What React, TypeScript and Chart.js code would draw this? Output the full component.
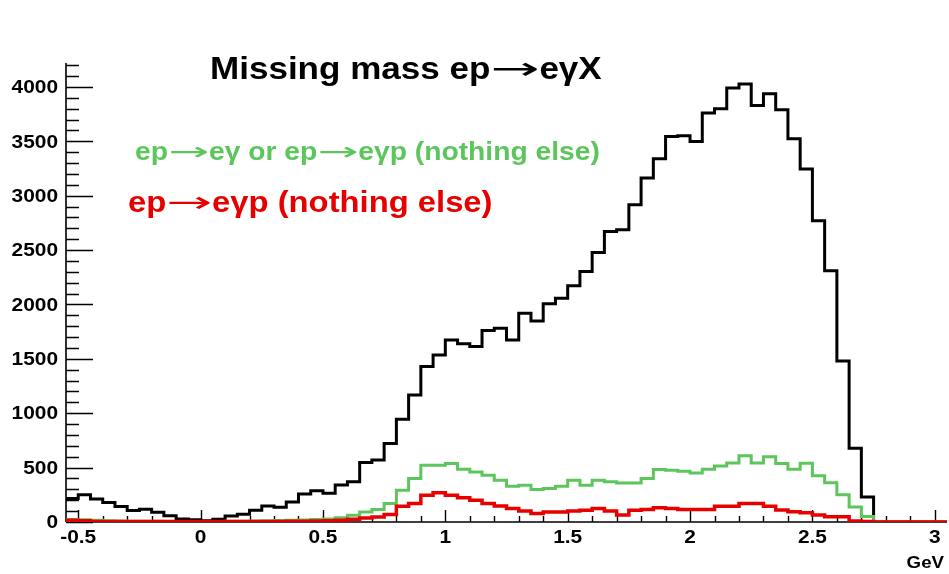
import React, { useEffect, useRef } from "react";
import { Chart, registerables } from "chart.js";

Chart.register(...registerables);

// Histogram binning (GeV)
const X_MIN = -0.55;
const X_MAX = 3.05;
const BIN_WIDTH = 0.05;
const Y_MAX = 4220;

// Bin contents, 72 bins of 0.05 GeV from -0.55 to 3.05
const allEvents = [
  215, 250, 212, 180, 142, 105, 117, 90, 58, 28,
  21, 12, 25, 55, 72, 108, 147, 135, 184, 258,
  288, 264, 340, 371, 546, 570, 722, 945, 1168, 1429,
  1536, 1674, 1638, 1613, 1760, 1782, 1674, 1920, 1849, 2006,
  2058, 2171, 2303, 2478, 2671, 2686, 2916, 3162, 3340, 3545,
  3551, 3499, 3760, 3800, 3990, 4027, 3830, 3938, 3790, 3524,
  3245, 2770, 2309, 1481, 679, 230, 0, 0, 0, 0,
  0, 0,
];
const egOrEgp = [
  22, 20, 15, 12, 10, 8, 8, 6, 5, 3,
  3, 3, 5, 6, 8, 10, 12, 14, 15, 18,
  22, 28, 40, 61, 92, 114, 169, 292, 399, 522,
  522, 537, 485, 460, 430, 384, 328, 338, 298, 307,
  328, 384, 338, 384, 370, 359, 359, 399, 482, 476,
  467, 451, 485, 516, 543, 608, 543, 599, 537, 485,
  540, 425, 360, 250, 138, 50, 0, 0, 0, 0,
  0, 0,
];
const egpOnly = [
  15, 12, 5, 4, 4, 4, 4, 4, 4, 4,
  4, 4, 4, 4, 4, 4, 4, 5, 6, 8,
  10, 12, 15, 25, 37, 46, 68, 144, 169, 246,
  270, 246, 224, 200, 169, 147, 123, 101, 77, 92,
  92, 101, 107, 123, 100, 65, 107, 114, 132, 123,
  114, 114, 114, 144, 144, 169, 169, 144, 110, 95,
  85, 65, 48, 48, 9, 5, 0, 0, 0, 0,
  0, 0,
];

// Axis tick labels
const xTickLabels = [-0.5, 0, 0.5, 1, 1.5, 2, 2.5, 3];
const yTickLabels = [0, 500, 1000, 1500, 2000, 2500, 3000, 3500, 4000];
const X_MINOR_STEP = 0.1;
const Y_MINOR_STEP = 100;

// Texts
const TITLE = "Missing mass ep\u2192e\u03b3X";
const LABEL_GREEN = "ep\u2192e\u03b3 or ep\u2192e\u03b3p (nothing else)";
const LABEL_RED = "ep\u2192e\u03b3p (nothing else)";
const X_UNIT = "GeV";

const FONT = '"Liberation Sans", Arial, Helvetica, sans-serif';
const ARROW_FONT = '"DejaVu Sans", sans-serif';
const ARROW = "\u2192";

function toSteps(values: number[]) {
  const pts = values.map((v, i) => ({ x: X_MIN + i * BIN_WIDTH, y: v }));
  pts.push({ x: X_MAX, y: values[values.length - 1] });
  return pts;
}

function measureRich(ctx: CanvasRenderingContext2D, text: string, size: number, arrowEm: number) {
  const segs = text.split(ARROW);
  ctx.font = `bold ${size}px ${FONT}`;
  let w = 0;
  segs.forEach((s, i) => {
    w += ctx.measureText(s).width;
    if (i < segs.length - 1) w += arrowEm * size;
  });
  return w;
}

function drawRich(
  ctx: CanvasRenderingContext2D,
  text: string,
  x: number,
  y: number,
  size: number,
  color: string,
  align: "left" | "right" | "center",
  baseline: CanvasTextBaseline = "alphabetic",
  arrowEm = 1.2,
  sx = 1.1
) {
  const w = measureRich(ctx, text, size, arrowEm) * sx;
  const left = align === "left" ? x : align === "right" ? x - w : x - w / 2;
  const segs = text.split(ARROW);
  ctx.save();
  ctx.translate(left, y);
  ctx.scale(sx, 1);
  ctx.fillStyle = color;
  ctx.textAlign = "left";
  ctx.textBaseline = baseline;
  let cx = 0;
  segs.forEach((s, i) => {
    ctx.font = `bold ${size}px ${FONT}`;
    ctx.fillText(s, cx, 0);
    cx += ctx.measureText(s).width;
    if (i < segs.length - 1) {
      ctx.font = `${size}px ${ARROW_FONT}`;
      const aw = ctx.measureText(ARROW).width;
      const target = arrowEm * size;
      ctx.save();
      ctx.translate(cx, 0);
      ctx.scale(target / aw, 1);
      ctx.fillText(ARROW, 0, 0);
      ctx.restore();
      cx += target;
    }
  });
  ctx.restore();
}

const rootStyle = {
  id: "rootStyle",
  beforeDatasetsDraw(chart: any) {
    const { ctx, chartArea, scales } = chart;
    const xs = scales.x;
    const ys = scales.y;
    ctx.save();
    ctx.strokeStyle = "#000";
    ctx.lineWidth = 1.6;
    ctx.beginPath();
    ctx.moveTo(chartArea.left, chartArea.top);
    ctx.lineTo(chartArea.left, chartArea.bottom);
    ctx.moveTo(chartArea.left, chartArea.bottom);
    ctx.lineTo(chartArea.right, chartArea.bottom);
    ctx.stroke();

    // y minor & major ticks (pointing inward)
    ctx.lineWidth = 1.4;
    ctx.beginPath();
    for (let v = 0; v <= ys.max + 1e-6; v += Y_MINOR_STEP) {
      const py = Math.round(ys.getPixelForValue(v)) + 0.5;
      const major = Math.abs(v % 500) < 1e-6;
      ctx.moveTo(chartArea.left, py);
      ctx.lineTo(chartArea.left + (major ? 27 : 13), py);
    }
    ctx.stroke();

    // x ticks
    ctx.beginPath();
    const start = Math.ceil((xs.min - 1e-9) / X_MINOR_STEP);
    const end = Math.floor((xs.max + 1e-9) / X_MINOR_STEP);
    for (let i = start; i <= end; i++) {
      const v = i * X_MINOR_STEP;
      const px = Math.round(xs.getPixelForValue(v)) + 0.5;
      const major = i % 5 === 0;
      ctx.moveTo(px, chartArea.bottom);
      ctx.lineTo(px, chartArea.bottom - (major ? 12 : 6));
    }
    ctx.stroke();
    ctx.restore();
  },
  afterDraw(chart: any) {
    const { ctx, scales } = chart;
    const xs = scales.x;
    const ys = scales.y;
    yTickLabels.forEach((v) => {
      drawRich(ctx, String(v), 58, ys.getPixelForValue(v) + 1, 19, "#000", "right", "middle");
    });
    xTickLabels.forEach((v) => {
      drawRich(ctx, String(v), xs.getPixelForValue(v), 543, 19, "#000", "center");
    });
    drawRich(ctx, X_UNIT, 944, 568, 17, "#000", "right");

    drawRich(ctx, TITLE, 210, 79, 31, "#000", "left", "alphabetic", 1.4, 1.13);
    drawRich(ctx, LABEL_GREEN, 135, 160, 25, "#5cc65c", "left", "alphabetic", 1.45, 1.13);
    drawRich(ctx, LABEL_RED, 128, 212, 29, "#e60000", "left", "alphabetic", 1.4, 1.13);
  },
};

export default function App() {
  const canvasRef = useRef<HTMLCanvasElement | null>(null);

  useEffect(() => {
    if (!canvasRef.current) return;
    const chart = new Chart(canvasRef.current, {
      type: "line",
      data: {
        datasets: [
          {
            label: "all",
            data: toSteps(allEvents),
            borderColor: "#000000",
            borderWidth: 3,
            stepped: "before",
            pointRadius: 0,
            fill: false,
            order: 3,
          },
          {
            label: "green",
            data: toSteps(egOrEgp),
            borderColor: "#5cc65c",
            borderWidth: 3,
            stepped: "before",
            pointRadius: 0,
            fill: false,
            order: 2,
          },
          {
            label: "red",
            data: toSteps(egpOnly),
            borderColor: "#e60000",
            borderWidth: 3.5,
            stepped: "before",
            pointRadius: 0,
            fill: false,
            order: 1,
          },
        ],
      },
      options: {
        responsive: false,
        devicePixelRatio: 1,
        animation: false,
        layout: { padding: { top: 63, right: 2, left: 0, bottom: 0 } },
        plugins: {
          legend: { display: false },
          tooltip: { enabled: false },
          title: { display: false },
        },
        scales: {
          x: {
            type: "linear",
            min: X_MIN,
            max: X_MAX,
            ticks: { display: false },
            grid: { display: false },
            border: { display: false },
            afterFit: (s: any) => {
              s.height = 52;
            },
          },
          y: {
            type: "linear",
            min: 0,
            max: Y_MAX,
            ticks: { display: false },
            grid: { display: false },
            border: { display: false },
            afterFit: (s: any) => {
              s.width = 66;
            },
          },
        },
      },
      plugins: [rootStyle],
    });
    return () => chart.destroy();
  }, []);

  return (
    <div
      style={{
        position: "absolute",
        left: 0,
        top: 0,
        width: 949,
        height: 574,
        background: "#ffffff",
      }}
    >
      <canvas ref={canvasRef} width={949} height={574} />
    </div>
  );
}
